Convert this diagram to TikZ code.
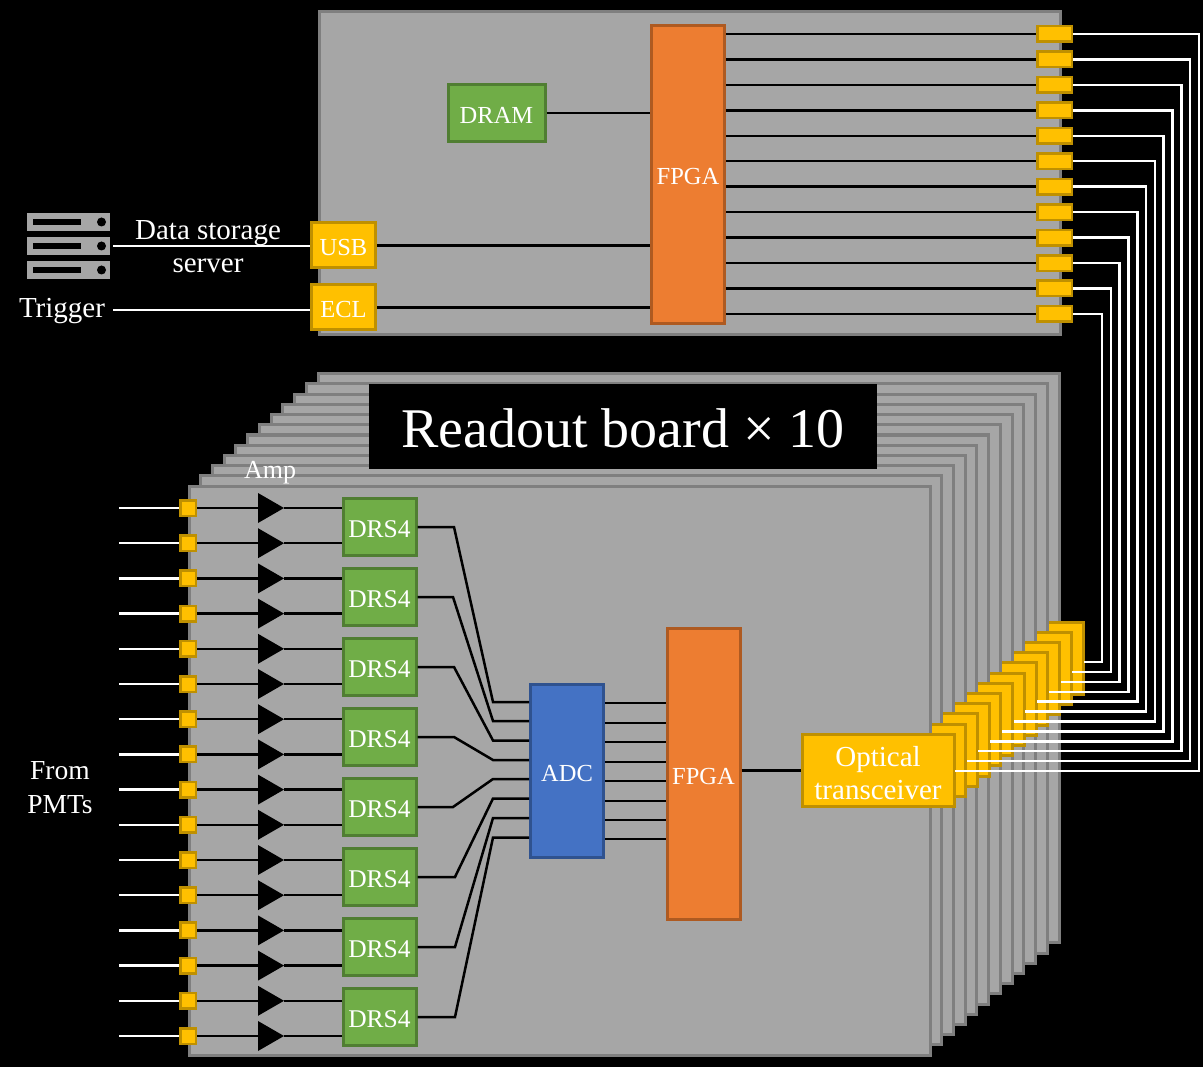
\documentclass[tikz,border=0pt]{standalone}
\usepackage{fontspec}
\setmainfont{Liberation Serif}
\usetikzlibrary{positioning,shapes.geometric}
\definecolor{boardgray}{HTML}{A6A6A6}
\definecolor{edgegray}{HTML}{7F7F7F}
\definecolor{pinyellow}{HTML}{FFC000}
\definecolor{pinedge}{HTML}{BF9000}
\definecolor{fpgaorange}{HTML}{ED7D31}
\definecolor{fpgaedge}{HTML}{AE5A21}
\definecolor{drsgreen}{HTML}{70AD47}
\definecolor{drsedge}{HTML}{507E32}
\definecolor{adcblue}{HTML}{4472C4}
\definecolor{adcedge}{HTML}{2F528F}
\tikzset{
  chip/.style={rectangle, line width=3pt, inner sep=0pt, text=white, text height=21pt, text depth=0pt,
               font=\fontsize{24.5}{30}\selectfont},
  board/.style={rectangle, draw=edgegray, fill=boardgray, line width=3pt, inner sep=0pt,
                minimum width=741pt, minimum height=569pt},
  yellowchip/.style={chip, draw=pinedge, fill=pinyellow},
  orangechip/.style={chip, draw=fpgaedge, fill=fpgaorange, minimum width=73pt},
  greenchip/.style={chip, draw=drsedge, fill=drsgreen},
  bluechip/.style={chip, draw=adcedge, fill=adcblue},
  inpin/.style={rectangle, draw=pinedge, fill=pinyellow, line width=2.5pt, inner sep=0pt, minimum size=15.5pt},
  outpin/.style={inpin, minimum width=34.5pt},
  amp/.style={isosceles triangle, isosceles triangle apex angle=58, isosceles triangle stretches,
              fill=black, inner sep=0pt, outer sep=0pt, minimum width=30pt, minimum height=26pt, anchor=apex},
  optic/.style={yellowchip, minimum width=152pt, minimum height=72.5pt},
  label/.style={text=white, inner sep=0pt, align=center, font=\fontsize{29}{33.5}\selectfont},
  sig/.style={black, line width=2.5pt},
  whitesig/.style={white, line width=2.5pt},
  rackunit/.style={rectangle, fill=boardgray, inner sep=0pt, minimum width=83pt, minimum height=18pt},
}
\begin{document}
\begin{tikzpicture}[x=1pt, y=-1pt]
  \fill[black] (0,0) rectangle (1203,1067);

  % collector board
  \node[board, minimum height=323pt] (topboard) at (689.5,173) {};
  \node[orangechip, minimum height=298pt] (topfpga) at (688,174.5) {FPGA};
  \node[greenchip, minimum width=97pt, minimum height=57pt] (dram) at (496.5,113) {DRAM};
  \node[yellowchip, minimum width=64pt, minimum height=45pt] (usb) at (343.5,245.5) {USB};
  \node[yellowchip, minimum width=64pt, minimum height=45pt] (ecl) at (343.5,307.5) {ECL};
  \draw[sig] (dram) -- (topfpga.west |- dram.east);
  \draw[sig] (usb) -- (topfpga.west |- usb.east);
  \draw[sig] (ecl) -- (topfpga.west |- ecl.east);
  \foreach \j in {1,...,12} {
    \pgfmathsetmacro{\py}{34+25.45*(\j-1)}
    \node[outpin] (toppin\j) at (1054.5,\py) {};
    \draw[sig] (topfpga.east |- toppin\j.west) -- (toppin\j.west);
  }

  % server icon
  \foreach \j/\ry in {1/222,2/246,3/270} {
    \node[rackunit] (rack\j) at (68.5,\ry) {};
    \node[rectangle, fill=black, inner sep=0pt, minimum width=48pt, minimum height=6pt, right=6pt of rack\j.west] (slot\j) {};
    \node[circle, fill=black, inner sep=0pt, minimum size=9pt, left=4pt of rack\j.east] (led\j) {};
  }
  \node[label] (storage) at (208,246.5) {Data storage\\[0pt]server};
  \node[label] (trigger) at (62,311) {Trigger};
  \coordinate (serverend) at (113,246);
  \coordinate (triggerend) at (113,310);
  \draw[whitesig] (serverend) -- (usb.west |- serverend);
  \draw[whitesig] (triggerend) -- (ecl.west |- triggerend);

  % stack of readout boards, back to front
  \foreach \i in {11,10,...,0} {
    \pgfmathsetmacro{\bx}{559.5+11.73*\i}
    \pgfmathsetmacro{\by}{770.5-10.2*\i}
    \pgfmathsetmacro{\ox}{878+11.73*\i}
    \pgfmathsetmacro{\oy}{770.5-10.2*\i}
    \node[board] (board\i) at (\bx,\by) {};
    \node[optic] (opt\i) at (\ox,\oy) {};
  }
  \node[label] (opttext) at (878,773) {Optical\\[0pt]transceiver};

  \node[rectangle, fill=black, minimum width=508pt, minimum height=85pt, inner sep=0pt, text=white,
        text height=42pt, text depth=0pt,
        font=\fontsize{56}{60}\selectfont] (title) at (623,426.5) {Readout board × 10};
  \node[label, font=\fontsize{26}{30}\selectfont] (amplabel) at (270,473) {Amp};
  \node[label, font=\fontsize{27.5}{33.5}\selectfont] (pmts) at (60,787.5) {From\\[0pt]PMTs};

  % front end
  \foreach \k in {1,...,8} {
    \pgfmathsetmacro{\dy}{527+70*(\k-1)}
    \node[greenchip, font=\fontsize{25.5}{30}\selectfont, minimum width=73pt, minimum height=57.5pt] (drs\k) at (379.5,\dy) {DRS4};
  }
  \foreach \j in {1,...,16} {
    \pgfmathsetmacro{\py}{508+35.2*(\j-1)}
    \pgfmathtruncatemacro{\k}{int((\j+1)/2)}
    \node[inpin] (pin\j) at (188,\py) {};
    \node[amp] (amp\j) at (284,\py) {};
    \coordinate (pmt\j) at (119,\py);
    \draw[whitesig] (pmt\j) -- (pin\j);
    \draw[sig] (pin\j) -- (pin\j -| amp\j.west);
    \draw[sig] (amp\j.apex) -- (amp\j.apex -| drs\k.west);
  }

  \node[bluechip, minimum width=73pt, minimum height=173pt] (adc) at (567,770.5) {ADC};
  \node[orangechip, minimum height=291pt] (fpga) at (703.5,774) {FPGA};
  \foreach \k/\bend/\join in {1/454/702,2/453/721,3/454/740.5,4/454/760,5/453/779,6/455/798.5,7/455/818,8/455/837.5} {
    \coordinate (knee\k) at (\bend,0);
    \coordinate (entry\k) at (493,\join);
    \draw[sig] (drs\k.east) -- (knee\k |- drs\k.east) -- (entry\k) -- (adc.west |- entry\k);
  }
  \foreach \j/\ly in {1/703,2/723,3/742,4/762,5/781,6/801,7/820,8/839} {
    \coordinate (bus\j) at (636,\ly);
    \draw[sig] (adc.east |- bus\j) -- (fpga.west |- bus\j);
  }
  \draw[sig] (fpga.east |- opt0.west) -- (opt0.west);

  % fibres to the collector board
  \foreach \i in {0,...,11} {
    \pgfmathtruncatemacro{\j}{\i+1}
    \coordinate (optout\i) at ({955+11.73*\i},{771-9.9*\i});
    \coordinate (riser\i) at ({1199-8.82*\i},{771-9.9*\i});
    \draw[whitesig] (toppin\j.east) -| (riser\i) -- (optout\i);
  }
\end{tikzpicture}
\end{document}
